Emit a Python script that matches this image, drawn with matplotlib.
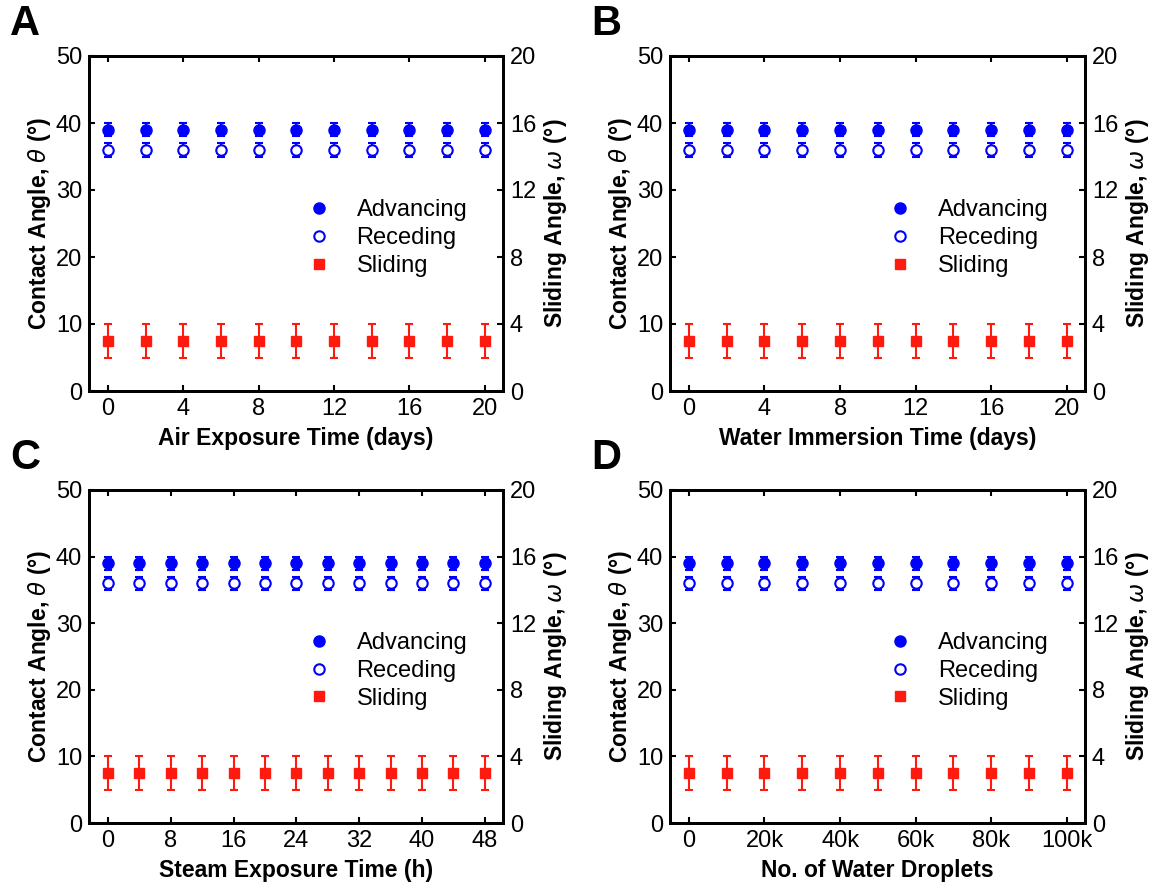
import numpy as np
import matplotlib
matplotlib.use('Agg')
import matplotlib.pyplot as plt
from matplotlib.ticker import MultipleLocator, FuncFormatter

plt.rcParams['font.family'] = ['Liberation Sans', 'DejaVu Sans']
plt.rcParams['mathtext.fontset'] = 'dejavusans'

TickSize = 17
LabelSize = 16.5
LegendSize = 17
LetterSize = 30

BLUE = '#0000FF'
RED = '#FF1A10'

# x values for each panel
x_air = [0, 2, 4, 6, 8, 10, 12, 14, 16, 18, 20]
x_water = [0, 2, 4, 6, 8, 10, 12, 14, 16, 18, 20]
x_steam = [0, 4, 8, 12, 16, 20, 24, 28, 32, 36, 40, 44, 48]
x_drops = [0, 10000, 20000, 30000, 40000, 50000, 60000, 70000, 80000, 90000, 100000]

# contact angles (deg) and sliding angle (deg), with errors
adv_air = [39, 39, 39, 39, 39, 39, 39, 39, 39, 39, 39]
rec_air = [36, 36, 36, 36, 36, 36, 36, 36, 36, 36, 36]
sld_air = [3, 3, 3, 3, 3, 3, 3, 3, 3, 3, 3]

adv_water = [39, 39, 39, 39, 39, 39, 39, 39, 39, 39, 39]
rec_water = [36, 36, 36, 36, 36, 36, 36, 36, 36, 36, 36]
sld_water = [3, 3, 3, 3, 3, 3, 3, 3, 3, 3, 3]

adv_steam = [39, 39, 39, 39, 39, 39, 39, 39, 39, 39, 39, 39, 39]
rec_steam = [36, 36, 36, 36, 36, 36, 36, 36, 36, 36, 36, 36, 36]
sld_steam = [3, 3, 3, 3, 3, 3, 3, 3, 3, 3, 3, 3, 3]

adv_drops = [39, 39, 39, 39, 39, 39, 39, 39, 39, 39, 39]
rec_drops = [36, 36, 36, 36, 36, 36, 36, 36, 36, 36, 36]
sld_drops = [3, 3, 3, 3, 3, 3, 3, 3, 3, 3, 3]

adv_err = 1.0
rec_err = 1.0
sld_err = 1.0

panels = [
    ('A', x_air, adv_air, rec_air, sld_air, 'Air Exposure Time (days)', 4, None),
    ('B', x_water, adv_water, rec_water, sld_water, 'Water Immersion Time (days)', 4, None),
    ('C', x_steam, adv_steam, rec_steam, sld_steam, 'Steam Exposure Time (h)', 8, None),
    ('D', x_drops, adv_drops, rec_drops, sld_drops, 'No. of Water Droplets', 20000, 'k'),
]

# axes positions in figure fraction
W, H = 1151, 883
boxes = [(89, 56, 503, 391), (670, 56, 1085, 391),
         (89, 490, 503, 823), (670, 490, 1085, 823)]

fig = plt.figure(figsize=(W / 100, H / 100), dpi=100)

for (letter, x, adv, rec, sld, xlabel, step, fmt), (l, t, r, b) in zip(panels, boxes):
    ax = fig.add_axes([l / W, 1 - b / H, (r - l) / W, (b - t) / H])
    ax2 = ax.twinx()

    e1 = ax.errorbar(x, adv, yerr=adv_err, fmt='o', color=BLUE, ms=8,
                     capsize=2.8, elinewidth=1.5, capthick=1.5, zorder=3)
    e2 = ax.errorbar(x, rec, yerr=rec_err, fmt='o', color=BLUE, mfc='white',
                     mec=BLUE, mew=1.5, ms=7.5, capsize=2.8, elinewidth=1.5,
                     capthick=1.5, zorder=3)
    e3 = ax2.errorbar(x, sld, yerr=sld_err, fmt='s', color=RED, ms=7,
                      capsize=3, elinewidth=1.5, capthick=1.5, zorder=3)

    span = x[-1] - x[0]
    ax.set_xlim(x[0] - 0.05 * span, x[-1] + 0.048 * span)
    ax.set_ylim(0, 50)
    ax2.set_ylim(0, 20)
    ax.xaxis.set_major_locator(MultipleLocator(step))
    ax.yaxis.set_major_locator(MultipleLocator(10))
    ax2.yaxis.set_major_locator(MultipleLocator(4))
    if fmt == 'k':
        ax.xaxis.set_major_formatter(FuncFormatter(
            lambda v, p: '0' if v == 0 else '%dk' % round(v / 1000)))

    ax.tick_params(direction='in', top=True, right=False, length=4, width=1.5,
                   labelsize=TickSize, pad=5)
    ax2.tick_params(direction='in', length=4, width=1.5, labelsize=TickSize, pad=5)
    for a in (ax, ax2):
        for s in a.spines.values():
            s.set_linewidth(2)

    ax.set_xlabel(xlabel, fontsize=LabelSize, fontweight='bold', labelpad=5)
    ax.set_ylabel(r'Contact Angle, $\theta$ (°)', fontsize=LabelSize,
                  fontweight='bold', labelpad=2)
    ax2.set_ylabel(r'Sliding Angle, $\omega$ (°)', fontsize=LabelSize,
                   fontweight='bold', labelpad=4)

    ax2.legend([e1[0], e2[0], e3[0]], ['Advancing', 'Receding', 'Sliding'],
               loc='center left', bbox_to_anchor=(0.475, 0.457), frameon=False,
               fontsize=LegendSize, handlelength=1.0, handletextpad=1.1,
               labelspacing=0.25)

    fig.text((l - 79) / W, 1 - (t - 32) / H, letter, fontsize=LetterSize,
             fontweight='bold', va='center', ha='left')

fig.savefig('out.png', dpi=100)
